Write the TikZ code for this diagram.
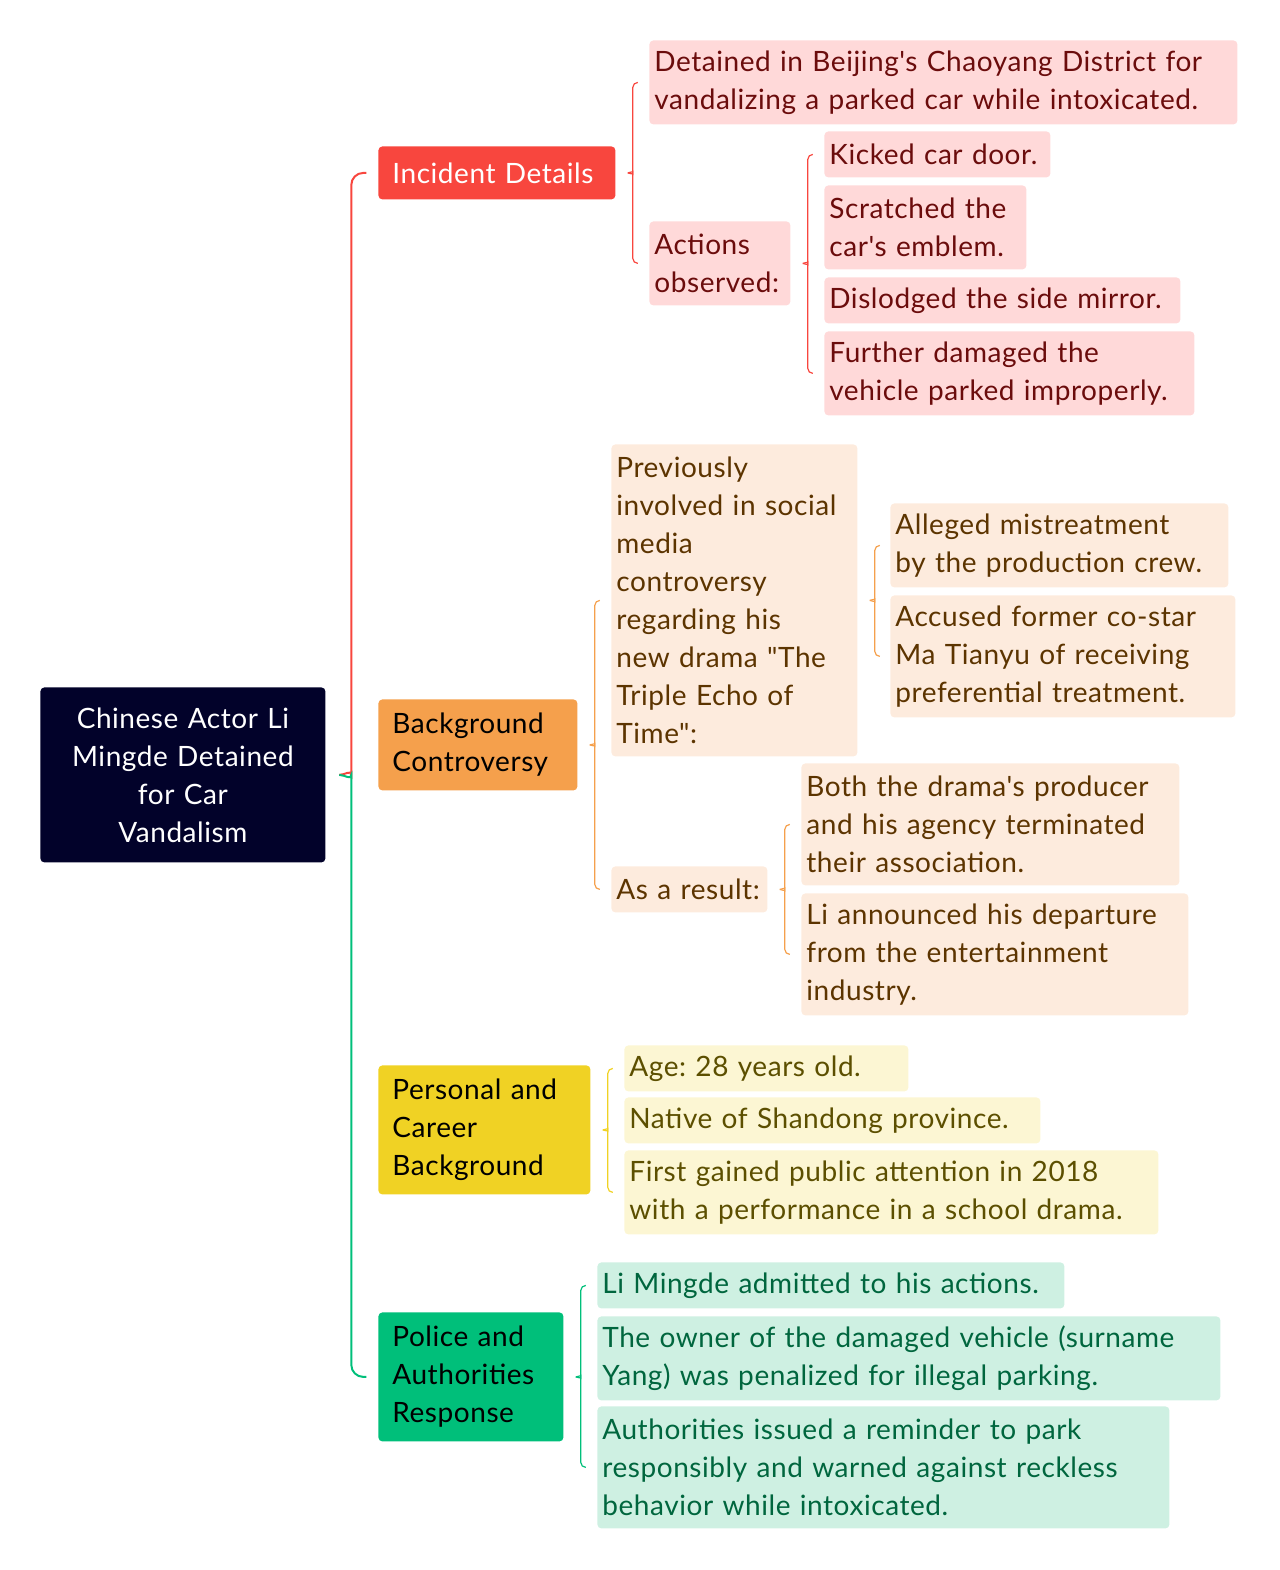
\documentclass[tikz,border=0pt]{standalone}
\usepackage{fontspec}
\setmainfont{Lato}[Ligatures=TeXOff, LetterSpace=2]
\usetikzlibrary{calc}
\hyphenpenalty=10000
\exhyphenpenalty=10000
\frenchspacing

\definecolor{rootc}{HTML}{02022A}
\definecolor{redc}{HTML}{F8463E}
\definecolor{orangec}{HTML}{F5A04C}
\definecolor{yellowc}{HTML}{F0D224}
\definecolor{greenc}{HTML}{00BF7A}
\definecolor{redfill}{HTML}{FFD9D9}
\definecolor{redtext}{HTML}{6B0C0C}
\definecolor{orangefill}{HTML}{FDEBDD}
\definecolor{orangetext}{HTML}{5C3400}
\definecolor{yellowfill}{HTML}{FCF6D3}
\definecolor{yellowtext}{HTML}{5C4F00}
\definecolor{greenfill}{HTML}{CEF0E2}
\definecolor{greentext}{HTML}{00663E}

\tikzset{mmbox/.style = {anchor=north west, rounded corners=2pt, align=left,
                         font=\fontsize{14}{19}\selectfont},
         nl/.style = {minimum height=#1*19pt+4pt},
         root/.style = {mmbox, fill=rootc, text=white, align=center,
                        inner xsep=6.25pt, text width=130pt, minimum height=87.5pt},
         topic/.style = {mmbox, inner xsep=7pt, minimum height=#1*19pt+7.5pt},
         leaf/.style = {mmbox, inner xsep=2.5pt, inner ysep=2pt},
         redleaf/.style = {leaf, fill=redfill, text=redtext},
         orangeleaf/.style = {leaf, fill=orangefill, text=orangetext},
         yellowleaf/.style = {leaf, fill=yellowfill, text=yellowtext},
         greenleaf/.style = {leaf, fill=greenfill, text=greentext},
         link/.style = {line width=0.6pt}
        }

\newcommand{\linkbrace}[4]{%
  \coordinate (bt) at ($(#1.east)+(17,0)$);
  \coordinate (b1) at (#2.west -| bt);
  \coordinate (b2) at (#3.west -| bt);
  \draw[link, #4] ([xshift=2.5pt]b1) [rounded corners=2.5pt] -- (b1) -- ([yshift=2.5pt]bt)
        [sharp corners] .. controls ([yshift=1.1pt]bt) and ([xshift=-1.4pt]bt) .. ([xshift=-2.5pt]bt);
  \draw[link, #4] ([xshift=2.5pt]b2) [rounded corners=2.5pt] -- (b2) -- ([yshift=-2.5pt]bt)
        [sharp corners] .. controls ([yshift=-1.1pt]bt) and ([xshift=-1.4pt]bt) .. ([xshift=-2.5pt]bt);
}

\begin{document}
\begin{tikzpicture}[x=0.5pt, y=-0.5pt]
\useasboundingbox (0,0) rectangle (1280,1570);

\node[root] (root) at (40,687) {Chinese Actor Li\\Mingde Detained\\for Car\\Vandalism};

\node[topic=1, fill=redc, text=white, text width=104.5pt] (inc) at (378,146) {Incident Details};
\node[topic=2, fill=orangec, text width=85.5pt] (bg) at (378,699) {Background\\Controversy};
\node[topic=3, fill=yellowc, text width=92pt] (pc) at (378,1065) {Personal and\\Career\\Background};
\node[topic=3, fill=greenc, text width=78.5pt] (pol) at (378,1312) {Police and\\Authorities\\Response};

\node[redleaf, nl=2, text width=289pt] (det) at (649,40) {Detained in Beijing's Chaoyang District for\\vandalizing a parked car while intoxicated.};
\node[redleaf, nl=2, text width=65.5pt] (act) at (649,221) {Actions\\observed:};
\node[redleaf, nl=1, text width=108pt] (kick) at (824,131) {Kicked car door.};
\node[redleaf, nl=2, text width=96pt] (scr) at (824,185) {Scratched the\\car's emblem.};
\node[redleaf, nl=1, text width=173pt] (disl) at (824,277) {Dislodged the side mirror.};
\node[redleaf, nl=2, text width=180pt] (fur) at (824,331) {Further damaged the\\vehicle parked improperly.};

\node[orangeleaf, nl=8, text width=118pt] (prev) at (611,444) {Previously\\involved in social\\media\\controversy\\regarding his\\new drama "The\\Triple Echo of\\Time":};
\node[orangeleaf, nl=1, text width=73pt] (res) at (611,866) {As a result:};
\node[orangeleaf, nl=2, text width=164pt] (alle) at (890,503) {Alleged mistreatment\\by the production crew.};
\node[orangeleaf, nl=3, text width=167.5pt] (accu) at (890,595) {Accused former co-star\\Ma Tianyu of receiving\\preferential treatment.};
\node[orangeleaf, nl=3, text width=184pt] (both) at (801,763) {Both the drama's producer\\and his agency terminated\\their association.};
\node[orangeleaf, nl=3, text width=188.5pt] (dep) at (801,893) {Li announced his departure\\from the entertainment\\industry.};

\node[yellowleaf, nl=1, text width=137pt] (age) at (624,1045) {Age: 28 years old.};
\node[yellowleaf, nl=1, text width=203pt] (nat) at (624,1097) {Native of Shandong province.};
\node[yellowleaf, nl=2, text width=262pt] (fir) at (624,1150) {First gained public attention in 2018\\with a performance in a school drama.};

\node[greenleaf, nl=1, text width=228.5pt] (adm) at (597,1262) {Li Mingde admitted to his actions.};
\node[greenleaf, nl=2, text width=306.5pt] (own) at (597,1316) {The owner of the damaged vehicle (surname\\Yang) was penalized for illegal parking.};
\node[greenleaf, nl=3, text width=281pt] (aut) at (597,1406) {Authorities issued a reminder to park\\responsibly and warned against reckless\\behavior while intoxicated.};

\coordinate (rt) at ($(root.east)+(25.5,0)$);
\coordinate (r1) at (inc.west -| rt);
\coordinate (r2) at (pol.west -| rt);
\draw[redc, line width=1pt] ([xshift=7.5pt]r1) [rounded corners=6pt] -- (r1) -- ([yshift=6pt]rt)
      [sharp corners] .. controls ([yshift=2.7pt]rt) and ([xshift=-3.3pt]rt) .. ([xshift=-6pt]rt);
\draw[greenc, line width=1pt] ([xshift=7.5pt]r2) [rounded corners=6pt] -- (r2) -- ([yshift=-6pt]rt)
      [sharp corners] .. controls ([yshift=-2.7pt]rt) and ([xshift=-3.3pt]rt) .. ([xshift=-6pt]rt);

\linkbrace{inc}{det}{act}{redc}
\linkbrace{act}{kick}{fur}{redc}
\linkbrace{bg}{prev}{res}{orangec}
\linkbrace{prev}{alle}{accu}{orangec}
\linkbrace{res}{both}{dep}{orangec}
\linkbrace{pc}{age}{fir}{yellowc}
\linkbrace{pol}{adm}{aut}{greenc}
\end{tikzpicture}
\end{document}
